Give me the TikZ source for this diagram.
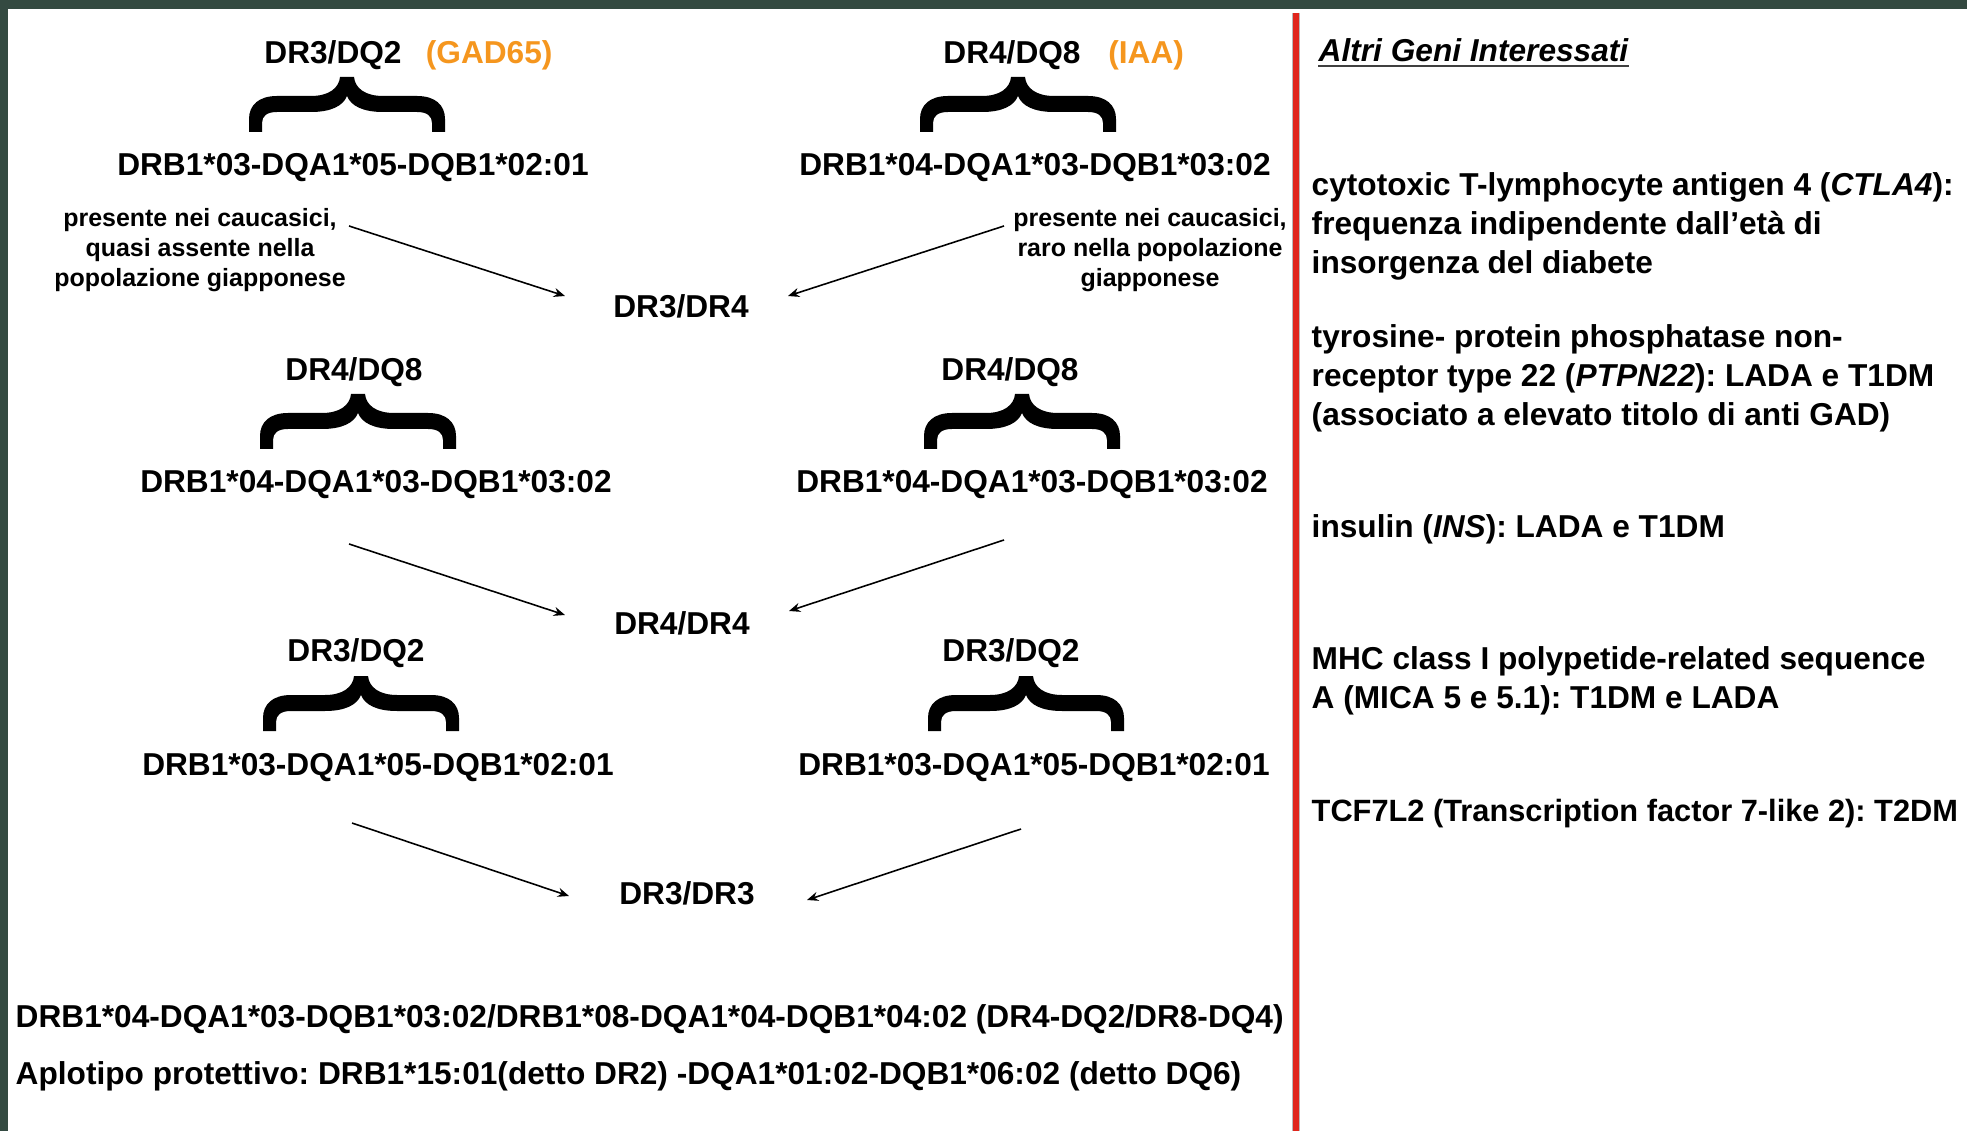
\documentclass[tikz,border=0pt]{standalone}
\usepackage{fontspec}
\setmainfont{Liberation Sans}
\frenchspacing
\usetikzlibrary{positioning}
\usetikzlibrary{calc,arrows.meta}
\definecolor{framegreen}{RGB}{52,74,65}
\definecolor{tagorange}{RGB}{245,150,30}
\definecolor{divred}{RGB}{224,38,28}
% thick curly brace, tip on top, arms pointing down
\newcommand\hlabrace[1]{%
\fill[shift={(#1)}] (0,19) .. controls (-4,29) and (-16,35) .. (-36,35)
  -- (-70,35) .. controls (-80,35) and (-85,39) .. (-85,46)
  -- (-85,55) -- (-98,55) -- (-98,42)
  .. controls (-98,28) and (-88,19) .. (-70,19)
  -- (-36,19) .. controls (-18,19) and (-8,11) .. (-7,0)
  -- (7,0) .. controls (8,11) and (18,19) .. (36,19)
  -- (70,19) .. controls (88,19) and (98,28) .. (98,42)
  -- (98,55) -- (85,55) -- (85,46)
  .. controls (85,39) and (80,35) .. (70,35)
  -- (36,35) .. controls (16,35) and (4,29) .. (0,19) -- cycle;
}

\begin{document}
\begin{tikzpicture}[x=0.01cm,y=-0.01cm,
  lbl/.style={font=\fontsize{9}{11}\selectfont\bfseries, inner sep=0pt, anchor=base},
  tagtxt/.style={lbl, text=tagorange},
  note/.style={font=\fontsize{7.1}{8.5}\selectfont\bfseries, align=center, inner sep=0pt},
  gene/.style={font=\fontsize{9}{11.1}\selectfont\bfseries, align=left, anchor=west, inner sep=0pt},
  arr/.style={-{Stealth[length=3.2pt,width=2.6pt]}, line width=0.45pt}]

  %% page and frame
  \useasboundingbox (0,0) rectangle (1967,1131);
  \fill[white] (0,0) rectangle (1967,1131);
  \fill[framegreen] (0,0) rectangle (1967,9);
  \fill[framegreen] (0,0) rectangle (8,1131);

  % divider
  \draw[gray!55, line width=2.2pt] (1296,13) -- (1296,1131);
  \draw[divred, line width=1.5pt] (1296,13) -- (1296,1131);

  %% first row
  \node[lbl] (t1L) at (333,64) {DR3/DQ2};
  \node[tagtxt, base right=6.5pt of t1L] (o1L) {(GAD65)};
  \node[lbl] (t1R) at (1012,64) {DR4/DQ8};
  \node[tagtxt, base right=7.5pt of t1R] (o1R) {(IAA)};
  \hlabrace{347,77}
  \hlabrace{1018,77}
  \node[lbl] (h1L) at (353,176) {DRB1*03-DQA1*05-DQB1*02:01};
  \node[lbl] (h1R) at (1035,176) {DRB1*04-DQA1*03-DQB1*03:02};
  \node[note] (nL) at (200,250) {presente nei caucasici,\\quasi assente nella\\popolazione giapponese};
  \node[note] (nR) at (1150,250) {presente nei caucasici,\\raro nella popolazione\\giapponese};
  \node[lbl] (g1) at (681,318) {DR3/DR4};

  %% second row
  \node[lbl] (t2L) at (354,381) {DR4/DQ8};
  \node[lbl] (t2R) at (1010,381) {DR4/DQ8};
  \hlabrace{358,394}
  \hlabrace{1022,394}
  \node[lbl] (h2L) at (376,493) {DRB1*04-DQA1*03-DQB1*03:02};
  \node[lbl] (h2R) at (1032,493) {DRB1*04-DQA1*03-DQB1*03:02};
  \node[lbl] (g2) at (682,634) {DR4/DR4};

  %% third row
  \node[lbl] (t3L) at (356,661) {DR3/DQ2};
  \node[lbl] (t3R) at (1011,661) {DR3/DQ2};
  \hlabrace{361,676}
  \hlabrace{1026,676}
  \node[lbl] (h3L) at (378,775) {DRB1*03-DQA1*05-DQB1*02:01};
  \node[lbl] (h3R) at (1034,775) {DRB1*03-DQA1*05-DQB1*02:01};
  \node[lbl] (g3) at (687,904) {DR3/DR3};

  % arrow ends
  \coordinate (a1Ls) at (349,226); \coordinate (a1Le) at (565,296);
  \coordinate (a1Rs) at (1004,226); \coordinate (a1Re) at (788,296);
  \coordinate (a2Ls) at (349,544); \coordinate (a2Le) at (565,615);
  \coordinate (a2Rs) at (1004,540); \coordinate (a2Re) at (789,611);
  \coordinate (a3Ls) at (352,823); \coordinate (a3Le) at (569,896);
  \coordinate (a3Rs) at (1021,829); \coordinate (a3Re) at (807,900);
  \foreach \r in {1,2,3}{
    \draw[arr] (a\r Ls) -- (a\r Le);
    \draw[arr] (a\r Rs) -- (a\r Re);
  }

  %% bottom lines
  \node[lbl, anchor=base west] (b1) at (15,1027) {DRB1*04-DQA1*03-DQB1*03:02/DRB1*08-DQA1*04-DQB1*04:02 (DR4-DQ2/DR8-DQ4)};
  \node[lbl, anchor=base west] (b2) at (15,1084) {Aplotipo protettivo: DRB1*15:01(detto DR2) -DQA1*01:02-DQB1*06:02 (detto DQ6)};

  %% right column
  \node[lbl, anchor=base west, font=\fontsize{9}{11}\selectfont\bfseries\itshape] (alt) at (1318,62) {Altri Geni Interessati};
  \draw[line width=0.6pt, black!75] ($(alt.base west)+(0,4)$) -- ($(alt.base east)+(0,4)$);
  \node[gene] (ctla) at (1311,226) {cytotoxic T-lymphocyte antigen 4 (\textit{CTLA4}):\\frequenza indipendente dall’età di\\insorgenza del diabete};
  \node[gene] (ptpn) at (1311,378) {tyrosine- protein phosphatase non-\\receptor type 22 (\textit{PTPN22}): LADA e T1DM\\(associato a elevato titolo di anti GAD)};
  \node[gene] (ins) at (1311,529) {insulin (\textit{INS}): LADA e T1DM};
  \node[gene] (mica) at (1311,681) {MHC class I polypetide-related sequence\\A (MICA 5 e 5.1): T1DM e LADA};
  \node[gene, font=\fontsize{8.75}{11}\selectfont\bfseries] (tcf) at (1311,814) {TCF7L2 (Transcription factor 7-like 2): T2DM};

\end{tikzpicture}
\end{document}
